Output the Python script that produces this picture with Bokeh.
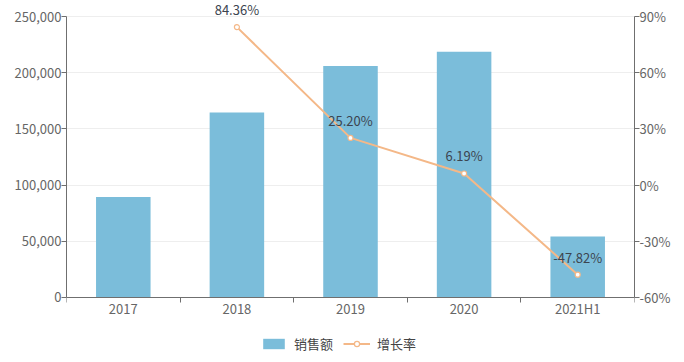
from bokeh.plotting import figure
from bokeh.models import (Range1d, LinearAxis, FixedTicker, NumeralTickFormatter,
                          PrintfTickFormatter, ColumnDataSource, Legend, LegendItem, LabelSet)
from bokeh.core.properties import value
from bokeh.embed import file_html
from bokeh.resources import INLINE

categories = ["2017", "2018", "2019", "2020", "2021H1"]
sales = [89300, 164600, 206000, 218700, 54200]
growth_categories = ["2018", "2019", "2020", "2021H1"]
growth = [84.36, 25.20, 6.19, -47.82]
sales_ticks = [0, 50000, 100000, 150000, 200000, 250000]
growth_ticks = [-60, -30, 0, 30, 60, 90]

FONT = "Noto Sans CJK SC"
BAR = "#7bbdda"
LINE = "#f4b888"
AXIS = "#6f6f6f"
TICKTXT = "#666666"

# the frame reaches past the axes so labels above and the legend below are not clipped
PAD_TOP = 0.05
PAD_BOTTOM = 0.2245
s_lo, s_hi = sales_ticks[0], sales_ticks[-1]
g_lo, g_hi = growth_ticks[0], growth_ticks[-1]

pos = {c: i + 0.5 for i, c in enumerate(categories)}

p = figure(frame_width=568, frame_height=358,
           x_range=Range1d(0, len(categories)),
           y_range=Range1d(s_lo - (s_hi - s_lo) * PAD_BOTTOM, s_hi + (s_hi - s_lo) * PAD_TOP),
           output_backend="svg", toolbar_location=None,
           min_border_left=66, min_border_right=42, min_border_top=2, min_border_bottom=0)
p.extra_y_ranges = {"pct": Range1d(g_lo - (g_hi - g_lo) * PAD_BOTTOM,
                                   g_hi + (g_hi - g_lo) * PAD_TOP)}
p.outline_line_color = None
p.background_fill_color = "white"
p.border_fill_color = "white"

bar_src = ColumnDataSource(dict(x=[pos[c] for c in categories], top=sales))
bars = p.vbar(x="x", top="top", width=0.48, bottom=0, source=bar_src,
              fill_color=BAR, line_color=None)

line_src = ColumnDataSource(dict(x=[pos[c] for c in growth_categories], y=growth,
                                 label=["%.2f%%" % g for g in growth]))
ln = p.line("x", "y", source=line_src, y_range_name="pct", line_color=LINE, line_width=2)
pts = p.scatter("x", "y", source=line_src, y_range_name="pct", size=5,
                fill_color="white", line_color=LINE, line_width=1.2)

labels = LabelSet(x="x", y="y", text="label", source=line_src, y_range_name="pct",
                  text_align="center", text_baseline="bottom", y_offset=8,
                  text_font=value(FONT), text_font_size="13px", text_color="#3b4450")
p.add_layout(labels)

xa = p.xaxis[0]
xa.fixed_location = s_lo
xa.ticker = FixedTicker(ticks=[pos[c] for c in categories],
                        minor_ticks=list(range(len(categories) + 1)))
xa.major_label_overrides = {pos[c]: c for c in categories}
xa.major_tick_out = 0
xa.major_tick_in = 0
xa.minor_tick_out = 5
xa.minor_tick_in = 0
xa.minor_tick_line_color = AXIS
xa.axis_line_color = AXIS
xa.major_label_standoff = -3
xa.major_label_text_font = FONT
xa.major_label_text_font_size = "13px"
xa.major_label_text_color = TICKTXT

ya = p.yaxis[0]
ya.ticker = FixedTicker(ticks=sales_ticks)
ya.bounds = (s_lo, s_hi)
ya.formatter = NumeralTickFormatter(format="0,0")
ya.minor_tick_line_color = None
ya.major_tick_out = 5
ya.major_tick_in = 0
ya.major_tick_line_color = AXIS
ya.axis_line_color = AXIS
ya.major_label_standoff = 0
ya.major_label_text_font = FONT
ya.major_label_text_font_size = "13px"
ya.major_label_text_color = TICKTXT

ra = LinearAxis(y_range_name="pct", ticker=FixedTicker(ticks=growth_ticks),
                formatter=PrintfTickFormatter(format="%d%%"), bounds=(g_lo, g_hi))
ra.minor_tick_line_color = None
ra.major_tick_out = 5
ra.major_tick_in = 0
ra.major_tick_line_color = AXIS
ra.axis_line_color = AXIS
ra.major_label_standoff = 0
ra.major_label_text_font = FONT
ra.major_label_text_font_size = "13px"
ra.major_label_text_color = TICKTXT
p.add_layout(ra, "right")

p.xgrid.grid_line_color = None
p.ygrid.ticker = FixedTicker(ticks=sales_ticks)
p.ygrid.grid_line_color = "#eeeeee"

legend = Legend(items=[LegendItem(label="销售额", renderers=[bars]),
                       LegendItem(label="增长率", renderers=[ln, pts])],
                orientation="horizontal", location=(194, 7),
                padding=0, margin=0, spacing=10, glyph_width=27, glyph_height=13,
                label_height=13, label_standoff=7, label_text_font=FONT,
                label_text_font_size="13px", label_text_color="#444444",
                border_line_color=None, background_fill_alpha=0)
p.add_layout(legend)

open("out.html", "w").write(file_html(p, INLINE))
